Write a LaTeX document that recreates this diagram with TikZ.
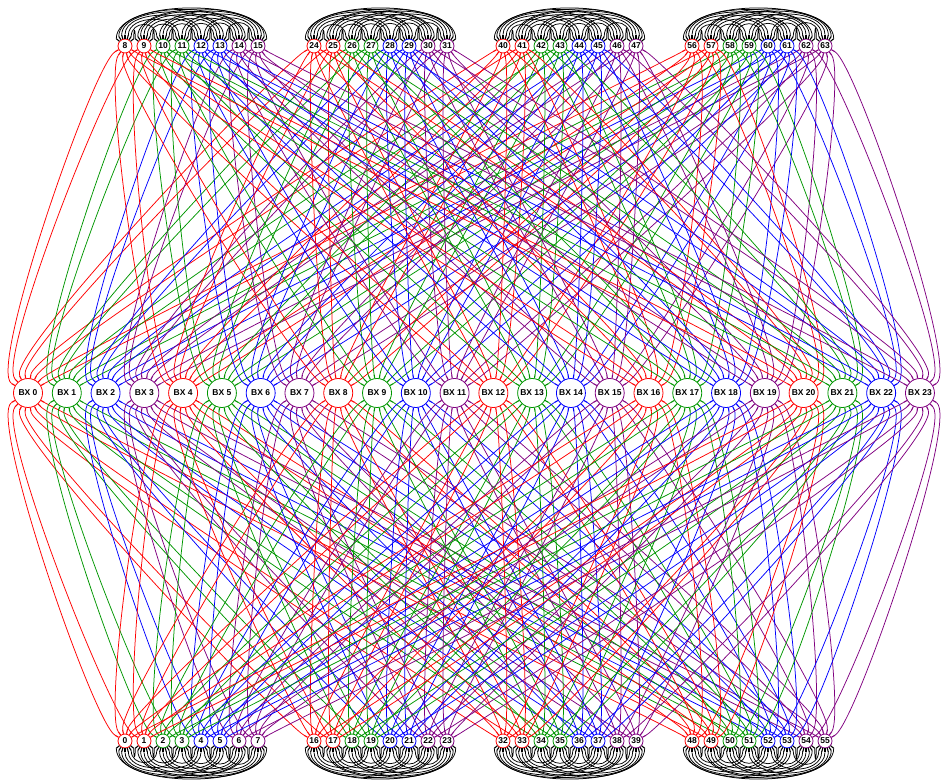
\documentclass[tikz,border=0pt]{standalone}
\usepackage{fontspec}
\setmainfont{Liberation Sans}
\definecolor{c0}{RGB}{255,0,0}
\definecolor{c1}{RGB}{0,150,0}
\definecolor{c2}{RGB}{0,0,255}
\definecolor{c3}{RGB}{128,0,128}
\tikzset{
  chip/.style={circle, draw, fill=white, line width=0.8pt, minimum size=14pt, inner sep=0pt, font=\bfseries\fontsize{8.5}{9}\selectfont},
  bx/.style={circle, draw, fill=white, line width=0.8pt, minimum size=29pt, inner sep=0pt, font=\bfseries\fontsize{8.5}{9}\selectfont},
  link/.style={line width=0.75pt},
  stub/.style={line width=1.1pt},
}
\begin{document}
\begin{tikzpicture}[x=1pt,y=1pt]
  \useasboundingbox (0,0) rectangle (944,782);
  % chips, upper and lower rows
  \foreach \g in {0,...,3}{
    \foreach \k in {0,...,7}{
      \pgfmathtruncatemacro{\col}{int(\k/2)}
      \pgfmathtruncatemacro{\ctop}{16*\g+8+\k}
      \pgfmathtruncatemacro{\cbot}{16*\g+\k}
      \node[chip, draw=c\col] (c\ctop) at (125+189*\g+19*\k,736) {\ctop};
      \node[chip, draw=c\col] (c\cbot) at (125+189*\g+19*\k,41) {\cbot};
    }
  }
  % switches
  \foreach \b in {0,...,23}{
    \pgfmathtruncatemacro{\col}{mod(\b,4)}
    \node[bx, draw=c\col] (bx\b) at (28+38.78*\b,389) {BX \b};
  }
  % switch to chip links
  \foreach \b in {0,...,23}{
    \pgfmathtruncatemacro{\col}{mod(\b,4)}
    \pgfmathtruncatemacro{\j}{int(\b/4)}
    \pgfmathtruncatemacro{\ua}{210+\j*24}
    \pgfmathtruncatemacro{\da}{150-\j*24}
    \foreach \g in {0,...,3}{
      \foreach \k in {0,1}{
        \pgfmathtruncatemacro{\i}{2*\g+\k}
        \pgfmathtruncatemacro{\ctop}{16*\g+8+2*\col+\k}
        \pgfmathtruncatemacro{\cbot}{16*\g+2*\col+\k}
        \pgfmathtruncatemacro{\bu}{round(150-\i*120/7)}
        \pgfmathtruncatemacro{\bd}{round(210+\i*120/7)}
        \draw[stub, c\col] (c\ctop.\ua) -- ++(\ua:4) (c\cbot.\da) -- ++(\da:4)
          (bx\b.\bu) -- ++(\bu:4) (bx\b.\bd) -- ++(\bd:4);
        \draw[link, c\col] ([shift={(\ua:4)}]c\ctop.\ua) .. controls +(\ua:25) and +(\bu:28) .. ([shift={(\bu:4)}]bx\b.\bu);
        \draw[link, c\col] ([shift={(\da:4)}]c\cbot.\da) .. controls +(\da:25) and +(\bd:28) .. ([shift={(\bd:4)}]bx\b.\bd);
      }
    }
  }
  % chip to chip links inside a group
  \foreach \g in {0,...,3}{
    \foreach \a in {0,...,6}{
      \pgfmathtruncatemacro{\astart}{\a+1}
      \foreach \q in {\astart,...,7}{
        \pgfmathtruncatemacro{\ma}{\a+7-\q}
        \pgfmathtruncatemacro{\mq}{\q-1-\a}
        \pgfmathsetmacro{\h}{6+5*(\q-\a)+0.5*\a}
        \pgfmathtruncatemacro{\ua}{round(140-\ma*100/6)}
        \pgfmathtruncatemacro{\uq}{round(140-\mq*100/6)}
        \pgfmathtruncatemacro{\da}{round(220+\ma*100/6)}
        \pgfmathtruncatemacro{\dq}{round(220+\mq*100/6)}
        \pgfmathtruncatemacro{\ta}{16*\g+8+\a}
        \pgfmathtruncatemacro{\tq}{16*\g+8+\q}
        \pgfmathtruncatemacro{\ba}{16*\g+\a}
        \pgfmathtruncatemacro{\bq}{16*\g+\q}
        \draw[stub] (c\ta.\ua) -- ++(\ua:4) coordinate (pa)
          (c\tq.\uq) -- ++(\uq:4) coordinate (pq)
          (c\ba.\da) -- ++(\da:4) coordinate (qa)
          (c\bq.\dq) -- ++(\dq:4) coordinate (qq);
        \draw[link] (pa) .. controls +(0,\h) and +(0,\h) .. (pq);
        \draw[link] (qa) .. controls +(0,-\h) and +(0,-\h) .. (qq);
      }
    }
  }
\end{tikzpicture}
\end{document}
